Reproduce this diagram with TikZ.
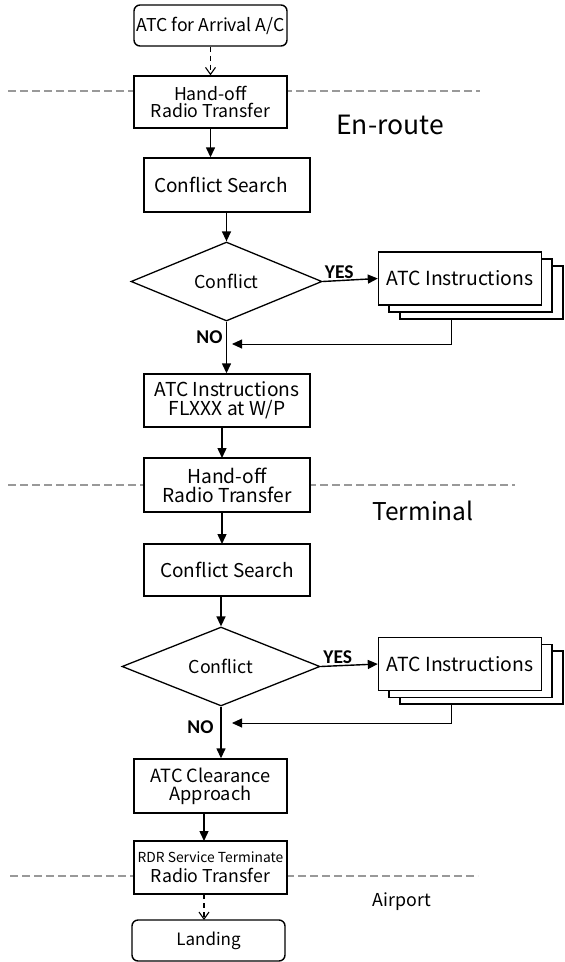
\documentclass[tikz,border=0pt]{standalone}
\usepackage{fontspec}
\setmainfont{Noto Sans CJK JP}
\newfontfamily\yesno{Carlito}
\usetikzlibrary{arrows.meta,shapes.geometric,calc}
\newcommand{\fs}[1]{\fontsize{#1}{#1}\selectfont}
\begin{document}
\begin{tikzpicture}[x=1pt,y=-1pt,
  box/.style={draw,line width=1.4pt,minimum width=#1,inner sep=0pt,align=center,font=\fs{17.7}},
  rbox/.style={box=#1,rounded corners=6pt},
  dec/.style={draw,line width=1.3pt,shape=diamond,inner sep=0pt,minimum width=#1,font=\fs{17.8}},
  inst/.style={draw,line width=1.4pt,fill=white,minimum width=163pt,minimum height=53pt,inner sep=0pt,font=\fs{19.4}},
  arr/.style={line width=1.4pt,-{Triangle[length=10pt,width=9pt]}},
  darr/.style={line width=1.1pt,dash pattern=on 5pt off 4pt,-{Straight Barb[length=7pt,width=10pt,line width=1.1pt]}},
  ret/.style={line width=0.9pt,-{Triangle[length=10pt,width=9pt]}},
  zone/.style={draw=gray!80,line width=1.8pt,dash pattern=on 8pt off 4pt},
  zlab/.style={inner sep=0pt},
  yn/.style={font=\yesno\bfseries\fs{19.5},inner sep=0pt}]
\useasboundingbox (0,0) rectangle (565,962);
% zone lines
\draw[zone] (8,91) -- (480,91);
\draw[zone] (8,485) -- (515,485);
\draw[zone] (10,876) -- (478,876);
% nodes
\node[rbox=153pt,minimum height=41pt,fill=white] (start) at (210.5,25.5) {ATC for Arrival A/C};
\node[box=153pt,minimum height=52pt,fill=white] (ho1) at (210.5,102) {Hand-off\\Radio Transfer};
\node[box=166pt,minimum height=54pt,font=\fs{19}] (cs1) at (227,185) {\hspace*{-12pt}Conflict Search};
\node[dec=191pt,minimum height=77pt] (d1) at (226.5,281.5) {Conflict};
\node[inst] (i1c) at (481.5,292.5) {};
\node[inst] (i1b) at (470.5,285.5) {};
\node[inst] (i1) at (460,278.5) {ATC Instructions};
\node[box=166pt,minimum height=53pt,font=\fs{19.2}] (fl) at (227,400.5) {ATC Instructions\\FLXXX at W/P};
\node[box=166pt,minimum height=54pt,fill=white,font=\fs{19.2}] (ho2) at (227,485) {Hand-off\\Radio Transfer};
\node[box=166pt,minimum height=52pt,font=\fs{19}] (cs2) at (227,570) {Conflict Search};
\node[dec=198pt,minimum height=77pt] (d2) at (221,666.5) {Conflict};
\node[inst] (i2c) at (481.5,677.5) {};
\node[inst] (i2b) at (470.5,671) {};
\node[inst] (i2) at (460,664) {ATC Instructions};
\node[box=153pt,minimum height=54pt,font=\fs{18.2}] (cl) at (210.5,786) {ATC Clearance\\Approach};
\node[box=153pt,minimum height=53pt,fill=white] (rdr) at (210.5,867.5) {{\fs{13.8}RDR Service Terminate}\\[2pt]Radio Transfer};
\node[rbox=153pt,minimum height=41pt,font=\fs{17}] (land) at (208.5,940.5) {Landing};
% zone labels
\node[zlab,font=\fs{26.5}] (z1) at (390,125) {En-route};
\node[zlab,font=\fs{24.5}] (z2) at (423,511) {Terminal};
\node[zlab,font=\fs{17.8}] (z3) at (402,902) {Airport};
% connectors
\draw[darr] (start.south) -- (ho1.north);
\draw[arr] (ho1.south) -- (ho1.south |- cs1.north);
\draw[arr] (cs1.south -| d1.north) -- (d1.north);
\draw[arr] (d1.east) -- node[yn,above,pos=0.3,yshift=1pt]{YES} (i1.west);
\coordinate (r1) at (451,344);
\draw[ret] (i1c.south -| r1) -- (r1) -- (232,344);
\draw[arr] (d1.south) -- (d1.south |- fl.north);
\node[yn] (no1) at (209.5,337) {NO};
\draw[arr] (222,427) -- (222,458);
\draw[arr] (222,512) -- (222,544);
\draw[arr] (221,596) -- (d2.north);
\draw[arr] (d2.east) -- node[yn,above,pos=0.3,yshift=1pt]{YES} (i2.west);
\coordinate (r2) at (451,723);
\draw[ret] (i2c.south -| r2) -- (r2) -- (232,723);
\draw[arr] (d2.south) -- (d2.south |- cl.north);
\node[yn] (no2) at (200.5,727) {NO};
\draw[arr] (204,813) -- (204,841);
\draw[darr] (204,894) -- (204,920);
\end{tikzpicture}
\end{document}
